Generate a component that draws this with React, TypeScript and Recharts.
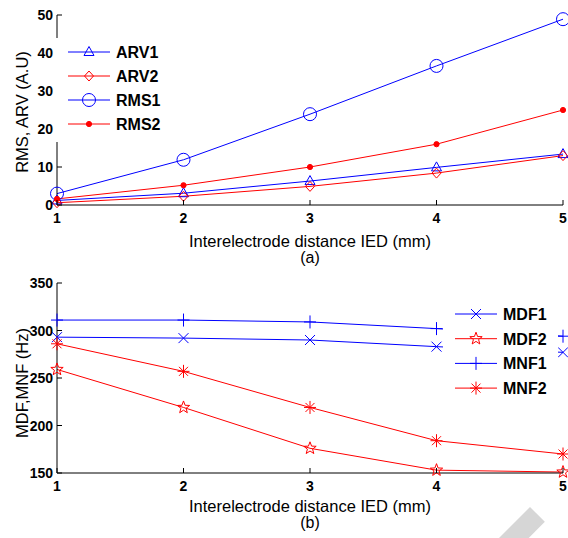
import { LineChart, Line, XAxis, YAxis, Legend, Label } from 'recharts'

const ied = [1, 2, 3, 4, 5]

// (a) amplitude
const arv1 = [1.2, 3.1, 6.3, 9.9, 13.4]
const arv2 = [0.6, 2.3, 4.9, 8.4, 13.0]
const rms1 = [3.0, 11.9, 23.9, 36.6, 48.9]
const rms2 = [1.6, 5.2, 10.0, 16.0, 25.0]

// (b) frequency
const mdf1 = [293, 292, 290, 283, 277]
const mdf2 = [259, 219, 176, 153, 151]
const mnf1 = [311, 311, 309, 302, 294]
const mnf2 = [286, 257, 219, 184, 170]

const ticksA = [0, 10, 20, 30, 40, 50]
const ticksB = [150, 200, 250, 300, 350]

const BLUE = '#0000ff'
const RED = '#ff0000'
const FONT = '"Liberation Sans", Arial, Helvetica, sans-serif'

type Kind = 'triangle' | 'diamond' | 'circle' | 'dot' | 'cross' | 'star' | 'plus' | 'asterisk'
type Series = { key: string; name: string; color: string; kind: Kind }

const seriesA: Series[] = [
  { key: 'arv1', name: 'ARV1', color: BLUE, kind: 'triangle' },
  { key: 'arv2', name: 'ARV2', color: RED, kind: 'diamond' },
  { key: 'rms1', name: 'RMS1', color: BLUE, kind: 'circle' },
  { key: 'rms2', name: 'RMS2', color: RED, kind: 'dot' },
]
const seriesB: Series[] = [
  { key: 'mdf1', name: 'MDF1', color: BLUE, kind: 'cross' },
  { key: 'mdf2', name: 'MDF2', color: RED, kind: 'star' },
  { key: 'mnf1', name: 'MNF1', color: BLUE, kind: 'plus' },
  { key: 'mnf2', name: 'MNF2', color: RED, kind: 'asterisk' },
]

const dataA = ied.map((x, i) => ({ ied: x, arv1: arv1[i], arv2: arv2[i], rms1: rms1[i], rms2: rms2[i] }))
const dataB = ied.map((x, i) => ({ ied: x, mdf1: mdf1[i], mdf2: mdf2[i], mnf1: mnf1[i], mnf2: mnf2[i] }))

const TICK_STYLE = { fontFamily: FONT, fontSize: 14, fontWeight: 700, fill: '#000' }
const TITLE_STYLE = { fontFamily: FONT, fontSize: 16.5, fill: '#000' }
const CAP_STYLE = { fontFamily: FONT, fontSize: 16, fill: '#000' }
const LEGEND_STYLE = { fontFamily: FONT, fontSize: 16, fontWeight: 700, fill: '#000' }

function Marker({ kind, cx, cy, color }: { kind: Kind; cx: number; cy: number; color: string }) {
  const s = { stroke: color, strokeWidth: 1, fill: 'none' }
  switch (kind) {
    case 'triangle':
      return <polygon points={`${cx},${cy - 5.5} ${cx - 5},${cy + 3.5} ${cx + 5},${cy + 3.5}`} {...s} />
    case 'diamond':
      return <polygon points={`${cx},${cy - 5} ${cx + 4.5},${cy} ${cx},${cy + 5} ${cx - 4.5},${cy}`} {...s} />
    case 'circle':
      return <circle cx={cx} cy={cy} r={6.5} {...s} />
    case 'dot':
      return <circle cx={cx} cy={cy} r={2.6} fill={color} stroke={color} />
    case 'cross':
      return <path d={`M${cx - 5},${cy - 5}L${cx + 5},${cy + 5}M${cx - 5},${cy + 5}L${cx + 5},${cy - 5}`} {...s} />
    case 'plus':
      return <path d={`M${cx - 6},${cy}L${cx + 6},${cy}M${cx},${cy - 6.5}L${cx},${cy + 6.5}`} {...s} />
    case 'asterisk':
      return (
        <path
          d={`M${cx - 6},${cy}L${cx + 6},${cy}M${cx},${cy - 6.5}L${cx},${cy + 6.5}M${cx - 4.5},${cy - 4.5}L${cx + 4.5},${cy + 4.5}M${cx - 4.5},${cy + 4.5}L${cx + 4.5},${cy - 4.5}`}
          {...s}
        />
      )
    case 'star': {
      const pts: string[] = []
      for (let i = 0; i < 10; i++) {
        const r = i % 2 === 0 ? 6.5 : 2.7
        const a = -Math.PI / 2 + (i * Math.PI) / 5
        pts.push(`${cx + r * Math.cos(a)},${cy + r * Math.sin(a)}`)
      }
      return <polygon points={pts.join(' ')} {...s} />
    }
  }
  return null
}

const LeftTick = (p: any) => (
  <g>
    <line x1={p.x} x2={p.x + 5} y1={p.y} y2={p.y} stroke="#000" />
    <text x={p.x - 4} y={p.y + 5} textAnchor="end" style={TICK_STYLE}>{p.payload.value}</text>
  </g>
)
const RightTick = (p: any) => <line x1={p.x} x2={p.x - 5} y1={p.y} y2={p.y} stroke="#000" />
const BottomTick = (p: any) => (
  <g>
    <line x1={p.x} x2={p.x} y1={p.y} y2={p.y - 5} stroke="#000" />
    <text x={p.x} y={p.y + 18} textAnchor="middle" style={TICK_STYLE}>{p.payload.value}</text>
  </g>
)
const TopTick = (p: any) => <line x1={p.x} x2={p.x} y1={p.y} y2={p.y + 5} stroke="#000" />

function LegendBox({ series, width, gap }: { series: Series[]; width: number; gap: number }) {
  return (
    <svg width={width} height={gap * series.length + 8} style={{ display: 'block' }}>
      {series.map((s, i) => {
        const y = 14 + i * gap
        return (
          <g key={s.key}>
            <line x1={12} x2={54} y1={y} y2={y} stroke={s.color} strokeWidth={1} />
            <Marker kind={s.kind} cx={33} cy={y} color={s.color} />
            <text x={60} y={y + 6} style={LEGEND_STYLE}>{s.name}</text>
          </g>
        )
      })}
    </svg>
  )
}

function Panel({
  data, series, ticks, domain, yTitle, yTitleCy, caption, titleDy, capDy, legendPos, legendGap,
}: {
  data: any[]; series: Series[]; ticks: number[]; domain: [number, number]; yTitle: string; yTitleCy: number
  caption: string; titleDy: number; capDy: number; legendPos: { left: number; top: number; width: number }; legendGap: number
}) {
  return (
    <LineChart width={568} height={268} data={data} margin={{ top: 15, right: 5, left: 0, bottom: 33 }}>
      <XAxis
        xAxisId="b" dataKey="ied" type="number" domain={[1, 5]} ticks={ied} height={30}
        stroke="#000" tickSize={0} tickMargin={0} tickLine={false} tick={(p: any) => <BottomTick {...p} />}
      >
        <Label
          content={(p: any) => {
            const vb = p.viewBox
            const cx = vb.x + vb.width / 2
            return (
              <g>
                <text x={cx} y={vb.y + titleDy} textAnchor="middle" style={TITLE_STYLE}>Interelectrode distance IED (mm)</text>
                <text x={cx} y={vb.y + capDy} textAnchor="middle" style={CAP_STYLE}>{caption}</text>
              </g>
            )
          }}
        />
      </XAxis>
      <XAxis
        xAxisId="t" orientation="top" dataKey="ied" type="number" domain={[1, 5]} ticks={ied} height={0}
        stroke="#000" tickSize={0} tickMargin={0} tickLine={false} tick={(p: any) => <TopTick {...p} />}
      />
      <YAxis
        yAxisId="l" type="number" domain={domain} ticks={ticks} width={57} interval={0}
        stroke="#000" tickSize={0} tickMargin={0} tickLine={false} tick={(p: any) => <LeftTick {...p} />}
      >
        <Label
          content={() => (
            <text x={28} y={yTitleCy} transform={`rotate(-90 28 ${yTitleCy})`} textAnchor="middle" style={TITLE_STYLE}>
              {yTitle}
            </text>
          )}
        />
      </YAxis>
      <YAxis
        yAxisId="r" orientation="right" type="number" domain={domain} ticks={ticks} width={0} interval={0}
        stroke="#000" tickSize={0} tickMargin={0} tickLine={false} tick={(p: any) => <RightTick {...p} />}
      />
      {series.map((s) => (
        <Line
          key={s.key}
          xAxisId="b"
          yAxisId="l"
          dataKey={s.key}
          name={s.name}
          stroke={s.color}
          strokeWidth={1}
          isAnimationActive={false}
          dot={(p: any) => <Marker key={`${s.key}-${p.index}`} kind={s.kind} cx={p.cx} cy={p.cy} color={s.color} />}
          activeDot={false}
        />
      ))}
      <Legend
        layout="horizontal"
        verticalAlign="middle"
        align="center"
        wrapperStyle={{ ...legendPos, background: '#fff', height: 'auto' }}
        content={() => <LegendBox series={series} width={legendPos.width} gap={legendGap} />}
      />
    </LineChart>
  )
}

export default function App() {
  return (
    <div style={{ position: 'absolute', left: 0, top: 0, width: 568, height: 538, background: '#fff', overflow: 'hidden' }}>
      <div style={{ position: 'absolute', left: 0, top: 0 }}>
        <Panel
          data={dataA} series={seriesA} ticks={ticksA} domain={[0, 50]} yTitle="RMS, ARV (A.U)" yTitleCy={112} caption="(a)"
          titleDy={42} capDy={58} legendPos={{ left: 56, top: 38, width: 118 }} legendGap={24}
        />
      </div>
      <div style={{ position: 'absolute', left: 0, top: 268 }}>
        <Panel
          data={dataB} series={seriesB} ticks={ticksB} domain={[150, 350]} yTitle="MDF,MNF (Hz)" yTitleCy={115} caption="(b)"
          titleDy={39} capDy={55} legendPos={{ left: 443, top: 32, width: 115 }} legendGap={24.7}
        />
      </div>
      <div
        style={{
          position: 'absolute', left: 530, top: 507, width: 21, height: 60, background: '#d6d6d6',
          transform: 'rotate(45deg)', transformOrigin: '0 0',
        }}
      />
    </div>
  )
}
